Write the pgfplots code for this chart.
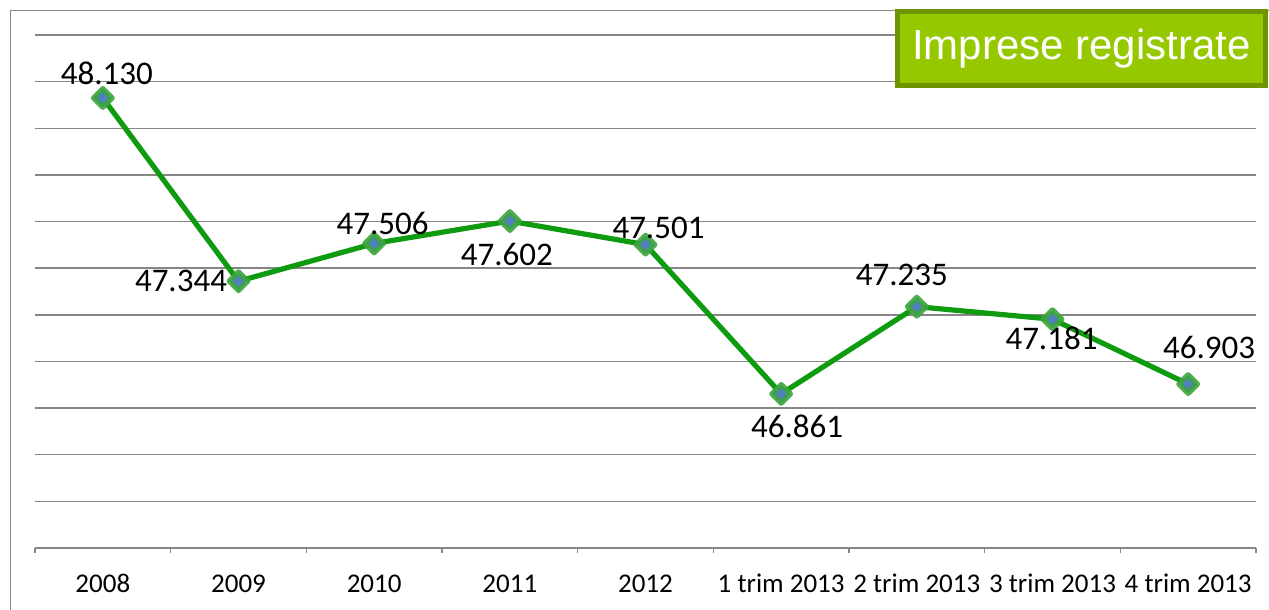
\documentclass[border=0pt]{standalone}
\usepackage{fontspec}
\setmainfont{Carlito}
\newfontfamily\arialf{Liberation Sans}
\usepackage{pgfplots}
\pgfplotsset{compat=1.18}
\usepackage{pgfplotstable}
\definecolor{gridgray}{RGB}{134,134,134}
\definecolor{linegreen}{RGB}{15,155,15}
\definecolor{markgreen}{RGB}{60,165,60}
\definecolor{markblue}{RGB}{79,129,189}
\definecolor{boxfill}{RGB}{150,200,0}
\definecolor{boxdraw}{RGB}{110,148,0}

\pgfplotstableread{
x y lbl dx dy
1 48130 48.130 4 -25
2 47344 47.344 -57.5 0
3 47506 47.506 8.5 -20
4 47602 47.602 -3 33
5 47501 47.501 13 -17
6 46861 46.861 16 32
7 47235 47.235 -15 -32
8 47181 47.181 -1 19
9 46903 46.903 21 -37
}\datatable

\begin{document}
\begin{tikzpicture}[x=1pt,y=1pt]
\useasboundingbox (0,0) rectangle (634.5,305);
\draw[gridgray, line width=0.75pt] (5.25,0) -- (5.25,299.75) -- (634.5,299.75);
\begin{axis}[
  at={(17.5pt,31pt)}, anchor=south west,
  scale only axis, width=610.5pt, height=256.5pt,
  xmin=0.5, xmax=9.5, ymin=46200, ymax=48400,
  axis line style={draw=none},
  xtick={1,...,9},
  xticklabels={2008,2009,2010,2011,2012,1 trim 2013,2 trim 2013,3 trim 2013,4 trim 2013},
  major tick length=0pt,
  minor xtick={0.5,1.5,...,9.5},
  minor tick length=2.5pt,
  tick align=outside,
  xtick pos=left,
  minor tick style={gridgray, line width=0.75pt},
  ytick={46200,46400,...,48400},
  yticklabels={},
  ytick style={draw=none},
  scaled y ticks=false,
  ymajorgrids,
  grid style={gridgray, line width=0.75pt},
  xticklabel style={anchor=base, yshift=-22.5pt, font=\fontsize{13.5}{16}\selectfont},
  clip=false,
]
\addplot[linegreen, line width=2.6pt, mark=square*, mark size=3.3pt,
  mark options={rotate=45, draw=markgreen, fill=markblue, line width=2.6pt, draw opacity=0.9, line join=round},
  nodes near coords={\pgfplotspointmeta},
  point meta=explicit symbolic,
  visualization depends on={\thisrow{dx} \as \dx},
  visualization depends on={\thisrow{dy} \as \dy},
  nodes near coords align={anchor=center},
  every node near coord/.append style={font=\fontsize{16.5}{20}\selectfont, text=black, xshift=\dx*0.5pt, yshift=-\dy*0.5pt},
] table[x=x, y=y, meta=lbl] {\datatable};
\end{axis}
\node[draw=boxdraw, fill=boxfill, line width=2.5pt, minimum width=184pt, minimum height=37pt, inner sep=0pt, text=white, font=\arialf\fontsize{21}{25}\selectfont] at (540.75,280.75) {Imprese registrate};
\end{tikzpicture}
\end{document}
